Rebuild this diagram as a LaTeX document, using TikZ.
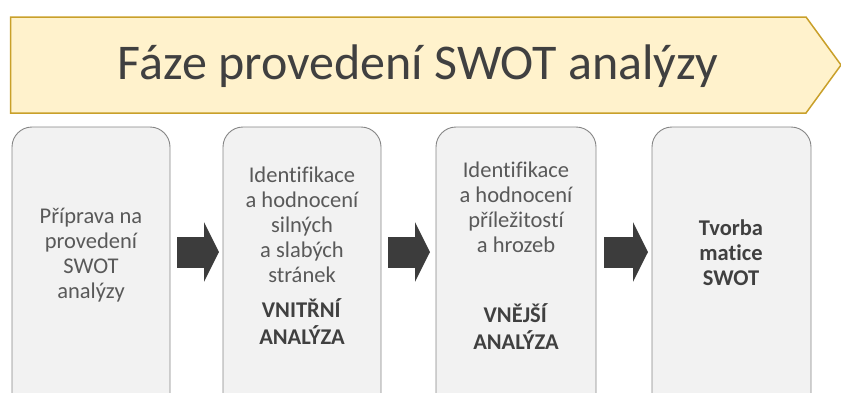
\documentclass[tikz,border=0pt]{standalone}
\usepackage{fontspec}
\setmainfont[Ligatures={NoCommon}]{Carlito}
\usetikzlibrary{arrows.meta}
\definecolor{bannerfill}{HTML}{FFF2CC}
\definecolor{bannerline}{HTML}{C9A02A}
\definecolor{titlecol}{HTML}{404040}
\definecolor{boxfill}{HTML}{F2F2F2}
\definecolor{boxline}{HTML}{858585}
\definecolor{txtcol}{HTML}{595959}
\definecolor{boldcol}{HTML}{404040}
\definecolor{arrcol}{HTML}{3C3C3C}
\tikzset{
  x=1pt, y=1pt,
  stagebox/.style={draw=boxline, fill=boxfill, line width=0.9pt, rounded corners=20pt},
  stagetext/.style={align=center, text=txtcol, font=\fontsize{22.5}{25}\selectfont},
  blockarrow/.style={draw=arrcol, line width=31pt, -{Triangle[length=15pt,width=59pt,fill=arrcol]}},
}
\begin{document}
\begin{tikzpicture}
\useasboundingbox (0,0) rectangle (841,-392);
\clip (0,0) rectangle (841,-392);
% banner
\draw[fill=bannerfill, draw=bannerline, line width=1.5pt]
  (10.5,-17) -- (806,-17) -- (841,-65) -- (806,-113) -- (10.5,-113) -- cycle;
\node[text=titlecol, font=\fontsize{50}{56}\selectfont] (title) at (418,-66) {Fáze provedení SWOT analýzy};
% boxes
\draw[stagebox] (12,-127) rectangle (170,-420);
\draw[stagebox] (223,-127) rectangle (381,-420);
\draw[stagebox] (436,-127) rectangle (596,-420);
\draw[stagebox] (652,-127) rectangle (811,-420);
\node[stagetext] (t1) at (91,-255) {Příprava na\\provedení\\SWOT\\analýzy};
\node[stagetext] (t2) at (302,-256) {Identifikace\\a hodnocení\\silných\\a slabých\\stránek\\[10pt]\textcolor{boldcol}{\textbf{VNITŘNÍ}}\\[2pt]\textcolor{boldcol}{\textbf{ANALÝZA}}};
\node[stagetext] (t3) at (516,-256) {Identifikace\\a hodnocení\\příležitostí\\a hrozeb\\[45pt]\textcolor{boldcol}{\textbf{VNĚJŠÍ}}\\[2pt]\textcolor{boldcol}{\textbf{ANALÝZA}}};
\node[stagetext, text=boldcol, font=\fontsize{22.5}{25}\selectfont\bfseries] (t4) at (731,-253) {Tvorba\\matice\\SWOT};
% arrows
\coordinate (a1s) at (177,-252); \coordinate (a1e) at (219,-252);
\coordinate (a2s) at (388,-252); \coordinate (a2e) at (430,-252);
\coordinate (a3s) at (604,-252); \coordinate (a3e) at (648,-252);
\draw[blockarrow] (a1s) -- (a1e);
\draw[blockarrow] (a2s) -- (a2e);
\draw[blockarrow] (a3s) -- (a3e);
\end{tikzpicture}
\end{document}
